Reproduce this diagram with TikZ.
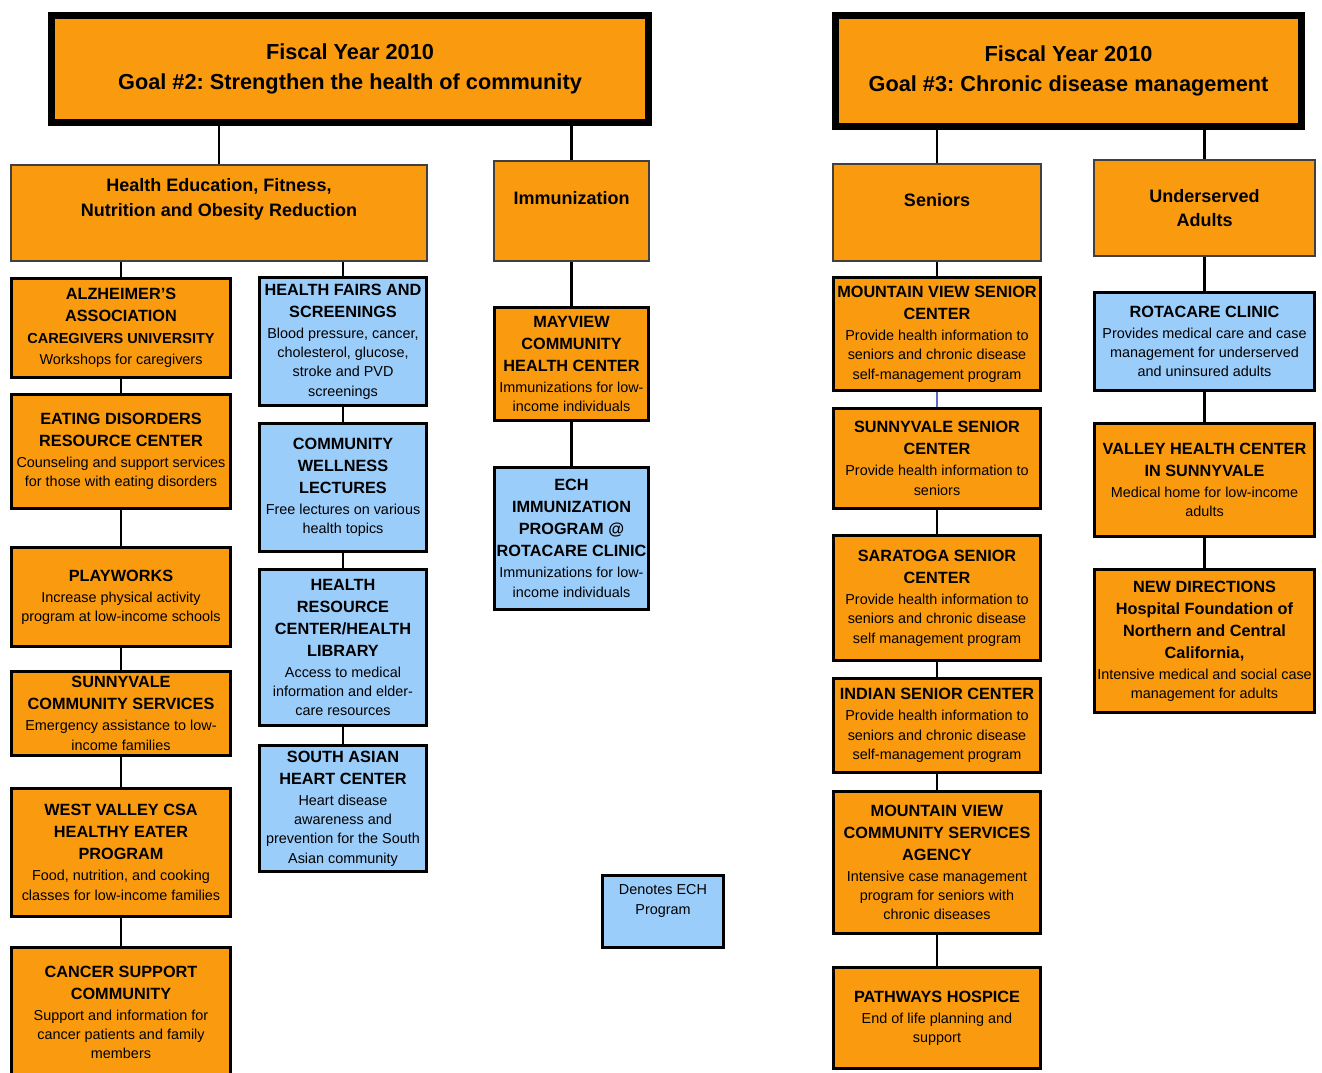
\documentclass[tikz,border=0pt]{standalone}
\usepackage{fontspec}
\setmainfont{Liberation Sans}
\frenchspacing
\definecolor{orb}{RGB}{250,155,15}
\definecolor{blb}{RGB}{155,205,250}
\definecolor{thinblue}{RGB}{90,110,190}
\newcommand\ttl{\fontsize{12.2}{16.5}\selectfont\bfseries}
\newcommand\dsc{\fontsize{10.8}{14.6}\selectfont\mdseries}
\newcommand\stl{\fontsize{10.9}{16}\selectfont\bfseries}
\newcommand\tnl{\\[-0.75pt]}
\newcommand\dnl{\\[-2pt]}
\tikzset{
 base/.style={rectangle, inner sep=0pt, align=center, text=black},
 goal/.style={base, fill=orb, draw=black, line width=5pt, font=\fontsize{16.3}{22.5}\selectfont\bfseries},
 head/.style={base, fill=orb, draw=black!75, line width=1.5pt, font=\fontsize{13.5}{18}\selectfont\bfseries},
 htxt/.style={align=center, inner sep=0pt, font=\fontsize{13.5}{18.75}\selectfont\bfseries},
 prog/.style={base, fill=orb, draw=black, line width=2.2pt, font=\ttl},
 ech/.style={base, fill=blb, draw=black, line width=2.2pt, font=\ttl},
 legbox/.style={base, fill=blb, draw=black, line width=1.6pt},
 conn/.style={draw=black, line width=1.8pt},
 wL/.style={minimum width=164.25pt},
 wM/.style={minimum width=125.25pt},
 wI/.style={minimum width=115.5pt},
 wS/.style={minimum width=155.25pt},
 wU/.style={minimum width=165pt},
}
\begin{document}
\begin{tikzpicture}[x=0.75pt,y=-0.75pt]
\useasboundingbox (0,0) rectangle (1322,1072);
\fill[white] (0,0) rectangle (1322,1072);

% goals
\node[goal, minimum width=597*0.75pt, minimum height=107*0.75pt] (g2) at (350,69) {Fiscal Year 2010\\Goal \#2: Strengthen the health of community};
\node[goal, minimum width=466*0.75pt, minimum height=111*0.75pt] (g3) at (1068.5,71) {Fiscal Year 2010\\Goal \#3: Chronic disease management};

% headers
\node[head, minimum width=416*0.75pt, minimum height=96*0.75pt] (hed) at (219,213) {};
\node[htxt] (hedT) at (219,199.5) {Health Education, Fitness,\\Nutrition and Obesity Reduction};
\node[head, minimum width=155*0.75pt, minimum height=100*0.75pt] (imm) at (571.5,211) {};
\node[htxt] (immT) at (571.5,198) {Immunization};
\node[head, minimum width=208*0.75pt, minimum height=97*0.75pt] (sen) at (937,212.5) {};
\node[htxt] (senT) at (937,200) {Seniors};
\node[head, minimum width=221*0.75pt, minimum height=96*0.75pt] (und) at (1204.5,208) {Underserved\\Adults};

% left column
\node[prog, wL, minimum height=99*0.75pt] (alz) at (121,328) {ALZHEIMER'S\\ASSOCIATION\\\stl CAREGIVERS UNIVERSITY\tnl\dsc Workshops for caregivers};
\node[prog, wL, minimum height=114*0.75pt] (eat) at (121,451.5) {EATING DISORDERS\\RESOURCE CENTER\tnl\dsc Counseling and support services\dnl\dsc for those with eating disorders};
\node[prog, wL, minimum height=99*0.75pt] (play) at (121,597) {PLAYWORKS\tnl\dsc Increase physical activity\dnl\dsc program at low-income schools};
\node[prog, wL, minimum height=84*0.75pt] (scs) at (121,713.5) {SUNNYVALE\\COMMUNITY SERVICES\tnl\dsc Emergency assistance to low-\dnl\dsc income families};
\node[prog, wL, minimum height=128*0.75pt] (wv) at (121,852.5) {WEST VALLEY CSA\\HEALTHY EATER\\PROGRAM\tnl\dsc Food, nutrition, and cooking\dnl\dsc classes for low-income families};
\node[prog, wL, minimum height=130*0.75pt] (can) at (121,1012.5) {CANCER SUPPORT\\COMMUNITY\tnl\dsc Support and information for\dnl\dsc cancer patients and family\dnl\dsc members};

% middle column
\node[ech, wM, minimum height=128*0.75pt] (hf) at (343,341.5) {HEALTH FAIRS AND\\SCREENINGS\tnl\dsc Blood pressure, cancer,\dnl\dsc cholesterol, glucose,\dnl\dsc stroke and PVD\dnl\dsc screenings};
\node[ech, wM, minimum height=128*0.75pt] (cw) at (343,487.5) {COMMUNITY\\WELLNESS\\LECTURES\tnl\dsc Free lectures on various\dnl\dsc health topics};
\node[ech, wM, minimum height=156*0.75pt] (hr) at (343,647.5) {HEALTH\\RESOURCE\\CENTER/HEALTH\\LIBRARY\tnl\dsc Access to medical\dnl\dsc information and elder-\dnl\dsc care resources};
\node[ech, wM, minimum height=126*0.75pt] (sa) at (343,808.5) {SOUTH ASIAN\\HEART CENTER\tnl\dsc Heart disease\dnl\dsc awareness and\dnl\dsc prevention for the South\dnl\dsc Asian community};

% immunization column
\node[prog, wI, minimum height=113*0.75pt] (may) at (571.5,364) {MAYVIEW\\COMMUNITY\\HEALTH CENTER\tnl\dsc Immunizations for low-\dnl\dsc income individuals};
\node[ech, wI, minimum height=142*0.75pt] (echp) at (571.5,538.5) {ECH\\IMMUNIZATION\\PROGRAM @\\ROTACARE CLINIC\tnl\dsc Immunizations for low-\dnl\dsc income individuals};

% legend
\node[legbox, minimum width=121*0.75pt, minimum height=72*0.75pt] (leg) at (663,911.5) {};
\node[align=center, inner sep=0pt, font=\dsc] (legT) at (663,901) {Denotes ECH\\ Program};

% seniors column
\node[prog, wS, minimum height=113*0.75pt] (mvs) at (937,334) {MOUNTAIN VIEW SENIOR\\CENTER\tnl\dsc Provide health information to\dnl\dsc seniors and chronic disease\dnl\dsc self-management program};
\node[prog, wS, minimum height=100*0.75pt] (sss) at (937,458.5) {SUNNYVALE SENIOR\\CENTER\tnl\dsc Provide health information to\dnl\dsc seniors};
\node[prog, wS, minimum height=125*0.75pt] (sar) at (937,598) {SARATOGA SENIOR\\CENTER\tnl\dsc Provide health information to\dnl\dsc seniors and chronic disease\dnl\dsc self management program};
\node[prog, wS, minimum height=94*0.75pt] (ind) at (937,725.5) {INDIAN SENIOR CENTER\tnl\dsc Provide health information to\dnl\dsc seniors and chronic disease\dnl\dsc self-management program};
\node[prog, wS, minimum height=142*0.75pt] (mvcs) at (937,862.5) {MOUNTAIN VIEW\\COMMUNITY SERVICES\\AGENCY\tnl\dsc Intensive case management\dnl\dsc program for seniors with\dnl\dsc chronic diseases};
\node[prog, wS, minimum height=101*0.75pt] (path) at (937,1018) {PATHWAYS HOSPICE\tnl\dsc End of life planning and\dnl\dsc support};

% underserved column
\node[ech, wU, minimum height=98*0.75pt] (rot) at (1204.5,341.5) {ROTACARE CLINIC\tnl\dsc Provides medical care and case\dnl\dsc management for underserved\dnl\dsc and uninsured adults};
\node[prog, wU, minimum height=113*0.75pt] (vhc) at (1204.5,480) {VALLEY HEALTH CENTER\\IN SUNNYVALE\tnl\dsc Medical home for low-income\dnl\dsc adults};
\node[prog, wU, minimum height=143*0.75pt] (nd) at (1204.5,641) {NEW DIRECTIONS\\Hospital Foundation of\\Northern and Central\\California,\tnl\dsc Intensive medical and social case\dnl\dsc management for adults};

% connectors
\draw[conn] (g2.south -| hed.north) -- (hed.north);
\draw[conn] (g2.south -| imm.north) -- (imm.north);
\draw[conn] (g3.south -| sen.north) -- (sen.north);
\draw[conn] (g3.south -| und.north) -- (und.north);
\draw[conn] (hed.south -| alz.north) -- (alz.north);
\draw[conn] (hed.south -| hf.north) -- (hf.north);
\draw[conn] (imm.south) -- (may.north);
\draw[conn] (may.south) -- (echp.north);
\draw[conn] (sen.south) -- (mvs.north);
\draw[conn] (und.south -| rot.north) -- (rot.north);
\draw[conn] (alz.south) -- (eat.north);
\draw[conn] (eat.south) -- (play.north);
\draw[conn] (play.south) -- (scs.north);
\draw[conn] (scs.south) -- (wv.north);
\draw[conn] (wv.south) -- (can.north);
\draw[conn] (hf.south) -- (cw.north);
\draw[conn] (cw.south) -- (hr.north);
\draw[conn] (hr.south) -- (sa.north);
\draw[draw=thinblue, line width=0.9pt] (mvs.south) -- (sss.north);
\draw[conn] (sss.south) -- (sar.north);
\draw[conn] (sar.south) -- (ind.north);
\draw[conn] (ind.south) -- (mvcs.north);
\draw[conn] (mvcs.south) -- (path.north);
\draw[conn] (rot.south) -- (vhc.north);
\draw[conn] (vhc.south) -- (nd.north);
\end{tikzpicture}
\end{document}
